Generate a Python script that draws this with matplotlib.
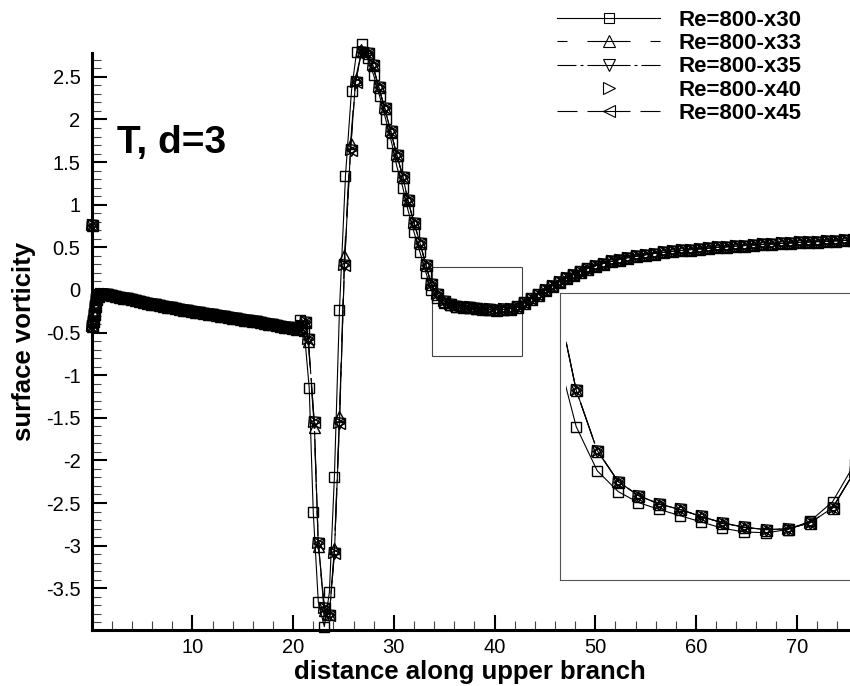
import matplotlib
matplotlib.use("Agg")
import matplotlib.pyplot as plt
from matplotlib.lines import Line2D
from matplotlib.patches import Rectangle
from matplotlib.ticker import MultipleLocator, FixedLocator

plt.rcParams["font.family"] = ["Liberation Sans", "DejaVu Sans"]
plt.rcParams["lines.scale_dashes"] = False

# ---------------------------------------------------------------- data
# leading part of the wall (identical for all grids)
x_lead = [0.00, 0.05, 0.10, 0.18, 0.28, 0.42, 0.60, 0.85, 1.15, 1.50, 1.90, 2.30,
          2.70, 3.10, 3.50, 3.90, 4.30, 4.70, 5.10, 5.50, 5.90, 6.30, 6.70, 7.10,
          7.50, 7.90, 8.30, 8.70, 9.10, 9.50, 9.90, 10.30, 10.70, 11.10, 11.50,
          11.90, 12.30, 12.70, 13.10, 13.50, 13.90, 14.30, 14.70, 15.10, 15.50,
          15.90, 16.30, 16.70, 17.10, 17.50, 17.90, 18.30, 18.70, 19.10, 19.50,
          19.90]
w_lead = [0.76, -0.42, -0.36, -0.28, -0.19, -0.11, -0.07, -0.05, -0.045, -0.05,
          -0.06, -0.07, -0.08, -0.09, -0.10, -0.11, -0.12, -0.13, -0.14, -0.15,
          -0.16, -0.165, -0.175, -0.185, -0.195, -0.20, -0.21, -0.22, -0.23,
          -0.24, -0.245, -0.255, -0.26, -0.27, -0.28, -0.285, -0.295, -0.30,
          -0.31, -0.32, -0.325, -0.335, -0.34, -0.35, -0.355, -0.365, -0.37,
          -0.38, -0.385, -0.395, -0.40, -0.41, -0.42, -0.43, -0.44, -0.45]

# separation / reattachment region, Re=800-x30
x_sep30 = [20.3, 20.7, 21.1, 21.6, 22.0, 22.5, 23.1, 23.6, 24.1, 24.6, 25.2, 25.8,
           26.3, 26.8, 27.4, 28.0, 28.6, 29.2, 29.8, 30.3, 30.9, 31.4, 32.0, 32.6,
           33.2, 33.7]
w_sep30 = [-0.44, -0.35, -0.48, -1.15, -2.61, -3.66, -3.95, -3.55, -2.19, -0.24,
           1.34, 2.34, 2.79, 2.88, 2.72, 2.52, 2.27, 2.00, 1.72, 1.45, 1.20, 0.94,
           0.68, 0.44, 0.20, 0.00]

# separation / reattachment region, Re=800-x33
x_sep33 = [20.3, 20.8, 21.2, 21.5, 22.1, 22.5, 23.1, 23.6, 24.1, 24.6, 25.1, 25.7,
           26.2, 26.8, 27.4, 27.9, 28.5, 29.1, 29.7, 30.3, 30.9, 31.4, 32.0, 32.6,
           33.2, 33.7]
w_sep33 = [-0.46, -0.42, -0.38, -0.60, -1.61, -3.01, -3.76, -3.80, -3.03, -1.48,
           0.41, 1.72, 2.48, 2.80, 2.78, 2.64, 2.38, 2.13, 1.86, 1.58, 1.33, 1.05,
           0.79, 0.55, 0.29, 0.07]

# separation / reattachment region, Re=800-x35 / x40 / x45
x_sep = [20.3, 20.8, 21.2, 21.5, 22.1, 22.5, 23.1, 23.6, 24.1, 24.6, 25.1, 25.7,
         26.2, 26.8, 27.4, 27.9, 28.5, 29.1, 29.7, 30.3, 30.9, 31.4, 32.0, 32.6,
         33.2, 33.7]
w_sep = [-0.46, -0.42, -0.38, -0.57, -1.55, -2.97, -3.73, -3.81, -3.09, -1.56,
         0.29, 1.64, 2.44, 2.79, 2.78, 2.64, 2.38, 2.13, 1.86, 1.58, 1.33, 1.05,
         0.79, 0.55, 0.29, 0.07]

# trough behind reattachment
x_trough = [34.30, 34.95, 35.60, 36.22, 36.87, 37.51, 38.16, 38.80, 39.49, 40.17,
            40.84, 41.53, 42.22]
w_trough30 = [-0.097, -0.154, -0.181, -0.195, -0.204, -0.212, -0.220, -0.228,
              -0.233, -0.234, -0.230, -0.219, -0.194]
w_trough = [-0.050, -0.128, -0.168, -0.186, -0.197, -0.204, -0.213, -0.221,
            -0.227, -0.230, -0.229, -0.221, -0.202]

# recovery towards the trailing part
x_rec = [42.9, 43.6, 44.3, 45.0, 45.7, 46.4, 47.1, 47.8, 48.5, 49.2, 50.0, 50.8,
         51.6, 52.4, 53.2, 54.0, 54.9, 55.8, 56.7, 57.6, 58.5, 59.4, 60.3, 61.2,
         62.1, 63.0, 63.9, 64.8, 65.7, 66.6, 67.5, 68.4, 69.3, 70.2, 71.1, 72.0,
         72.9, 73.8, 74.7, 75.6]
w_rec30 = [-0.145, -0.095, -0.045, 0.005, 0.052, 0.097, 0.140, 0.180, 0.217,
           0.252, 0.283, 0.310, 0.335, 0.357, 0.377, 0.395, 0.412, 0.427, 0.440,
           0.452, 0.463, 0.473, 0.482, 0.491, 0.499, 0.507, 0.514, 0.521, 0.528,
           0.534, 0.540, 0.546, 0.552, 0.557, 0.562, 0.567, 0.572, 0.577, 0.581,
           0.585]
w_rec = [-0.155, -0.105, -0.055, -0.005, 0.045, 0.092, 0.137, 0.178, 0.215,
         0.251, 0.283, 0.310, 0.335, 0.357, 0.377, 0.395, 0.412, 0.427, 0.440,
         0.452, 0.463, 0.473, 0.482, 0.491, 0.499, 0.507, 0.514, 0.521, 0.528,
         0.534, 0.540, 0.546, 0.552, 0.557, 0.562, 0.567, 0.572, 0.577, 0.581,
         0.585]

labels = ["Re=800-x30", "Re=800-x33", "Re=800-x35", "Re=800-x40", "Re=800-x45"]
x_ticks = [10, 20, 30, 40, 50, 60, 70]
y_ticks = [-3.5, -3, -2.5, -2, -1.5, -1, -0.5, 0, 0.5, 1, 1.5, 2, 2.5]
y_tick_labels = ["-3.5", "-3", "-2.5", "-2", "-1.5", "-1", "-0.5", "0", "0.5",
                 "1", "1.5", "2", "2.5"]

series_x = {
    labels[0]: x_lead + x_sep30 + x_trough + x_rec,
    labels[1]: x_lead + x_sep33 + x_trough + x_rec,
    labels[2]: x_lead + x_sep + x_trough + x_rec,
    labels[3]: x_lead + x_sep + x_trough + x_rec,
    labels[4]: x_lead + x_sep + x_trough + x_rec,
}
series_w = {
    labels[0]: w_lead + w_sep30 + w_trough30 + w_rec30,
    labels[1]: w_lead + w_sep33 + w_trough + w_rec,
    labels[2]: w_lead + w_sep + w_trough + w_rec,
    labels[3]: w_lead + w_sep + w_trough + w_rec,
    labels[4]: w_lead + w_sep + w_trough + w_rec,
}

# ---------------------------------------------------------------- styles
PT = 0.72  # points per pixel at 100 dpi
styles = {
    labels[0]: dict(marker="s", ms=9.5 * PT, ls="-"),
    labels[1]: dict(marker="^", ms=11 * PT, ls=(33 * PT, (43 * PT, 20 * PT))),
    labels[2]: dict(marker="v", ms=11 * PT, ls=(24 * PT, (43 * PT, 4 * PT, 3 * PT, 4 * PT))),
    labels[3]: dict(marker=">", ms=11 * PT, ls="none"),
    labels[4]: dict(marker="<", ms=11 * PT, ls=(23 * PT, (43 * PT, 10 * PT))),
}

W, H = 850, 686


def px_box(left, top, right, bottom):
    return [left / W, 1 - bottom / H, (right - left) / W, (bottom - top) / H]


fig = plt.figure(figsize=(W / 100, H / 100), dpi=100)
ax = fig.add_axes(px_box(91.7, 53, 848, 630))

for name in labels:
    st = styles[name]
    ax.plot(series_x[name], series_w[name], color="black", lw=0.8,
            linestyle=st["ls"], marker=st["marker"], ms=st["ms"],
            mfc="none", mec="black", mew=1.0, clip_on=False)

ax.set_xlim(0, 75.1)
ax.set_ylim(-3.99, 2.78)

for side in ("top", "right"):
    ax.spines[side].set_visible(False)
for side in ("left", "bottom"):
    ax.spines[side].set_linewidth(2.2)

ax.xaxis.set_major_locator(FixedLocator(x_ticks))
ax.xaxis.set_minor_locator(MultipleLocator(2))
ax.yaxis.set_major_locator(FixedLocator(y_ticks))
ax.set_yticklabels(y_tick_labels)
ax.yaxis.set_minor_locator(MultipleLocator(0.1))
ax.tick_params(which="major", direction="in", length=15 * PT, width=1.5,
               labelsize=14.5, color="black")
ax.tick_params(which="minor", direction="in", length=9 * PT, width=0.8,
               color="#444444")
ax.tick_params(axis="y", which="major", pad=8)
ax.tick_params(axis="x", which="major", pad=6)

# zoom window marker
ax.add_patch(Rectangle((33.83, -0.78), 8.9, 1.045, fill=False, ec="#444444",
                       lw=0.8))

fig.text(470 / W, 1 - 672 / H, "distance along upper branch", ha="center",
         va="center", fontsize=18.5, fontweight="bold")
fig.text(24 / W, 1 - 341.5 / H, "surface vorticity", ha="center", va="center",
         rotation=90, fontsize=18.5, fontweight="bold")
ax.text(2.5, 1.72, "T, d=3", ha="left", va="center", fontsize=28,
        fontweight="bold")

# legend
handles = []
for name in labels:
    st = styles[name]
    handles.append(Line2D([], [], color="black", lw=0.8, linestyle=st["ls"],
                          marker=st["marker"], ms=st["ms"] * 1.1, mfc="none",
                          mec="black", mew=0.8))
fs_leg = 16
fs_px = fs_leg / PT
ax.legend(handles, labels, loc="upper left",
          bbox_to_anchor=(557 / W, 1 - 10 / H), bbox_transform=fig.transFigure,
          frameon=False, borderpad=0, borderaxespad=0,
          handlelength=103 / fs_px, handletextpad=18 / fs_px,
          labelspacing=0.1, markerscale=1.0,
          prop=dict(size=fs_leg, weight="bold"))

# magnified view of the trough
axi = fig.add_axes(px_box(560, 293.3, 851, 580))
clip = Rectangle((6 / 291, 0), 1, 1, transform=axi.transAxes, fc="none",
                 ec="none")
axi.add_patch(clip)
for name in labels:
    st = styles[name]
    ln, = axi.plot(series_x[name], series_w[name], color="black", lw=0.8,
                   linestyle=st["ls"], marker=st["marker"], ms=st["ms"],
                   mfc="none", mec="black", mew=1.0)
    ln.set_clip_path(clip)
axi.set_xlim(33.8, 42.79)
axi.set_ylim(-0.295, 0.075)
axi.set_xticks([])
axi.set_yticks([])
for sp in axi.spines.values():
    sp.set_color("#555555")
    sp.set_linewidth(0.8)

fig.savefig("out.png", dpi=100)
